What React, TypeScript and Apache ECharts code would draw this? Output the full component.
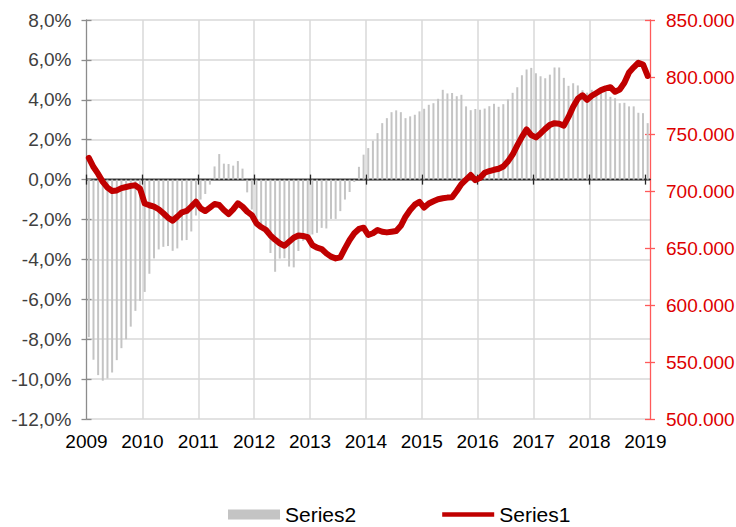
import React, { useEffect, useRef } from 'react';
import * as echarts from 'echarts';

const FONT = '"Liberation Sans", Arial, Helvetica, sans-serif';

// Year tick labels on the horizontal axis
const yearTicks = [2009, 2010, 2011, 2012, 2013, 2014, 2015, 2016, 2017, 2018, 2019];

// Series2: monthly change in % (grey bars, left axis), Jan 2009 .. Jan 2019
const s2_2009 = [-7.9, -9.03, -9.8, -10.08, -9.97, -9.67, -9.05, -8.45, -8.0, -7.37, -6.58, -6.08];
const s2_2010 = [-5.63, -4.72, -3.95, -3.5, -3.37, -3.33, -3.57, -3.45, -3.05, -3.03, -2.6, -1.8];
const s2_2011 = [-1.0, -0.72, -0.25, 0.66, 1.28, 0.8, 0.78, 0.7, 0.93, 0.55, -0.64, -1.5];
const s2_2012 = [-2.1, -2.3, -2.6, -3.68, -4.62, -3.96, -3.94, -4.36, -4.4, -3.58, -3.07, -2.83];
const s2_2013 = [-2.75, -2.67, -2.42, -2.45, -1.97, -1.97, -1.58, -1.0, -0.62, -0.12, 0.64, 1.25];
const s2_2014 = [1.58, 1.95, 2.33, 2.83, 3.08, 3.38, 3.47, 3.38, 3.08, 3.17, 3.25, 3.42];
const s2_2015 = [3.55, 3.75, 3.83, 4.05, 4.5, 4.32, 4.34, 4.18, 4.25, 3.67, 3.48, 3.54];
const s2_2016 = [3.5, 3.56, 3.68, 3.8, 3.65, 3.78, 4.02, 4.35, 4.63, 5.23, 5.52, 5.6];
const s2_2017 = [5.33, 5.18, 5.08, 5.26, 5.62, 5.62, 5.1, 4.7, 4.83, 4.72, 4.48, 4.36];
const s2_2018 = [4.5, 4.45, 4.4, 4.4, 4.15, 4.08, 3.83, 3.85, 3.67, 3.67, 3.35, 3.33];
const s2_2019 = [2.83];

// Series1: level in thousands (dark red line, right axis), Jan 2009 .. Jan 2019
const s1_2009 = [729, 721, 715, 708, 703, 700, 700.5, 702.5, 703.5, 704.5, 705, 702];
const s1_2010 = [689, 687.5, 686.3, 684, 680.5, 676.6, 674, 677.5, 681.3, 682.5, 686.3, 690.6];
const s1_2011 = [684.8, 682.4, 685.4, 688.6, 687.7, 683.3, 679.8, 683.9, 689.2, 686.3, 681.9, 678.9];
const s1_2012 = [671.6, 668.4, 666, 661, 657.3, 654.1, 652, 655.5, 659, 661, 660.5, 659.5];
const s1_2013 = [652.6, 650.3, 649.1, 645.3, 642.4, 640.9, 641.8, 649.7, 657, 662.9, 666.7, 667.8];
const s1_2014 = [661.4, 662.9, 665.8, 664.3, 663.7, 664.3, 664.9, 669.5, 677.5, 683.3, 688, 690.5];
const s1_2015 = [685.5, 689, 691, 692.8, 693.6, 694.2, 694.5, 700, 706, 710, 714, 709.5];
const s1_2016 = [711.5, 716, 717.5, 718.6, 719.5, 721.5, 726, 732, 740, 747.5, 754, 749];
const s1_2017 = [747, 750.5, 754.5, 758, 759.5, 759, 757.3, 765, 774, 781, 784, 780];
const s1_2018 = [783.5, 786, 788.5, 790, 791, 787, 789, 795, 804, 808.5, 812.5, 811];
const s1_2019 = [801];

const series2 = [
  ...s2_2009, ...s2_2010, ...s2_2011, ...s2_2012, ...s2_2013, ...s2_2014,
  ...s2_2015, ...s2_2016, ...s2_2017, ...s2_2018, ...s2_2019,
];
const series1 = [
  ...s1_2009, ...s1_2010, ...s1_2011, ...s1_2012, ...s1_2013, ...s1_2014,
  ...s1_2015, ...s1_2016, ...s1_2017, ...s1_2018, ...s1_2019,
];

// Monthly categories
const months: string[] = series2.map(
  (_, i) => `${2009 + Math.floor(i / 12)}-${String((i % 12) + 1).padStart(2, '0')}`
);

const X_MIN = 2009;
const X_MAX = 2009 + months.length / 12;

const GRID_COLOR = '#d9d9d9';
const ZERO_AXIS_COLOR = '#262626';
const LEFT_AXIS_COLOR = '#8c8c8c';
const RIGHT_AXIS_COLOR = '#ff5a5a';
const RIGHT_LABEL_COLOR = '#dd0000';
const BAR_COLOR = '#c4c4c4';
const LINE_COLOR = '#c00000';

export default function App() {
  const ref = useRef<HTMLDivElement>(null);

  useEffect(() => {
    document.body.style.margin = '0';
    if (!ref.current) return;
    const chart = echarts.init(ref.current, undefined, { renderer: 'svg' });

    const pctFmt = (v: number) => v.toFixed(1).replace('.', ',') + '%';
    const kFmt = (v: number) => `${v}.000`;

    const option: any = {
      animation: false,
      textStyle: { fontFamily: FONT },
      grid: {
        left: 86.5,
        right: 86,
        top: 20,
        bottom: 108,
        containLabel: false,
        outerBoundsMode: 'none',
      },
      legend: {
        left: 228,
        top: 504,
        padding: 0,
        itemWidth: 52,
        itemHeight: 10,
        itemGap: 86,
        symbolKeepAspect: true,
        textStyle: { fontSize: 21, color: '#000', fontFamily: FONT },
        data: [
          { name: 'Series2', icon: 'rect', itemStyle: { color: BAR_COLOR } },
          { name: 'Series1', icon: 'path://M0,0H52V4.5H0Z', itemStyle: { color: LINE_COLOR } },
        ],
      },
      xAxis: [
        {
          type: 'category',
          data: months,
          boundaryGap: true,
          show: false,
          position: 'top',
        },
        {
          type: 'value',
          min: X_MIN,
          max: X_MAX,
          interval: 1,
          position: 'bottom',
          axisLine: {
            show: true,
            onZero: true,
            onZeroAxisIndex: 0,
            lineStyle: { color: ZERO_AXIS_COLOR, width: 1.3 },
          },
          axisTick: {
            show: true,
            inside: false,
            length: 5,
            customValues: yearTicks,
            lineStyle: { color: ZERO_AXIS_COLOR, width: 1.3 },
          },
          axisLabel: {
            show: true,
            customValues: yearTicks,
            margin: 13,
            fontSize: 19,
            color: '#000',
            formatter: (v: number) => String(v),
          },
          splitLine: {
            show: true,
            showMinLine: false,
            showMaxLine: false,
            lineStyle: { color: GRID_COLOR, width: 1.5 },
          },
        },
        {
          type: 'value',
          min: X_MIN,
          max: X_MAX,
          interval: 1,
          position: 'bottom',
          axisLine: {
            show: true,
            onZero: true,
            onZeroAxisIndex: 0,
            lineStyle: { color: ZERO_AXIS_COLOR, width: 1.3 },
          },
          axisTick: {
            show: true,
            inside: true,
            length: 5,
            customValues: yearTicks,
            lineStyle: { color: ZERO_AXIS_COLOR, width: 1.3 },
          },
          axisLabel: { show: false },
          splitLine: { show: false },
        },
      ],
      yAxis: [
        {
          type: 'value',
          min: -12,
          max: 8,
          interval: 2,
          position: 'left',
          axisLine: { show: true, onZero: false, lineStyle: { color: LEFT_AXIS_COLOR, width: 1.3 } },
          axisTick: { show: true, inside: false, length: 5, lineStyle: { color: LEFT_AXIS_COLOR, width: 1.3 } },
          axisLabel: { margin: 15, fontSize: 19, color: '#404040', formatter: pctFmt },
          splitLine: { show: true, lineStyle: { color: GRID_COLOR, width: 1.5 } },
        },
        {
          type: 'value',
          min: 500,
          max: 850,
          interval: 50,
          position: 'right',
          axisLine: { show: true, onZero: false, lineStyle: { color: RIGHT_AXIS_COLOR, width: 1.3 } },
          axisTick: { show: true, inside: false, length: 5, lineStyle: { color: RIGHT_AXIS_COLOR, width: 1.3 } },
          axisLabel: { margin: 16, fontSize: 19, color: RIGHT_LABEL_COLOR, formatter: kFmt },
          splitLine: { show: false },
        },
        {
          type: 'value',
          min: -12,
          max: 8,
          interval: 2,
          position: 'left',
          axisLine: { show: false, onZero: false },
          axisTick: { show: true, inside: true, length: 5, lineStyle: { color: LEFT_AXIS_COLOR, width: 1.3 } },
          axisLabel: { show: false },
          splitLine: { show: false },
        },
        {
          type: 'value',
          min: 500,
          max: 850,
          interval: 50,
          position: 'right',
          axisLine: { show: false, onZero: false },
          axisTick: { show: true, inside: true, length: 5, lineStyle: { color: RIGHT_AXIS_COLOR, width: 1.3 } },
          axisLabel: { show: false },
          splitLine: { show: false },
        },
      ],
      series: [
        {
          name: 'Series2',
          type: 'bar',
          xAxisIndex: 0,
          yAxisIndex: 0,
          data: series2,
          barWidth: 2,
          itemStyle: { color: BAR_COLOR },
          z: 1,
        },
        {
          name: 'Series1',
          type: 'line',
          xAxisIndex: 0,
          yAxisIndex: 1,
          data: series1,
          symbol: 'none',
          showSymbol: false,
          lineStyle: { color: LINE_COLOR, width: 6, cap: 'round', join: 'round' },
          itemStyle: { color: LINE_COLOR },
          z: 3,
        },
      ],
    };

    chart.setOption(option);
    return () => {
      chart.dispose();
    };
  }, []);

  return <div ref={ref} style={{ width: 736, height: 527 }} />;
}
